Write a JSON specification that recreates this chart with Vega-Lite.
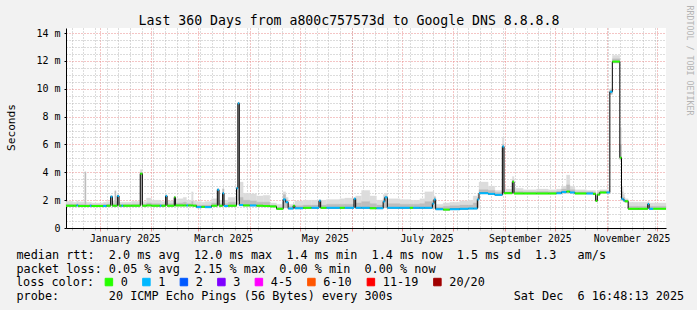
{
  "$schema": "https://vega.github.io/schema/vega-lite/v6.json",
  "width": 600,
  "height": 200,
  "autosize": {"type": "none"},
  "padding": {"left": 66, "top": 28, "right": 31, "bottom": 82},
  "background": "#f2f2f2",
  "config": {"view": {"fill": "#ffffff", "stroke": null}, "font": "DejaVu Sans Mono"},
  "data": {"values": [
    {"t":"2024-12-11T16:48:00Z","e":"2024-12-16T00:00:00Z","m":1.6,"l":"0","lo":1.55,"h2":1.72,"hi":1.92},
    {"t":"2024-12-16T00:00:00Z","e":"2024-12-18T00:00:00Z","m":1.6,"l":"0","lo":1.55,"h2":1.7,"hi":1.85},
    {"t":"2024-12-18T00:00:00Z","e":"2024-12-19T00:00:00Z","m":1.62,"l":"1","lo":1.56,"h2":1.74,"hi":1.95},
    {"t":"2024-12-19T00:00:00Z","e":"2024-12-23T00:00:00Z","m":1.58,"l":"0","lo":1.53,"h2":1.7,"hi":1.88},
    {"t":"2024-12-23T00:00:00Z","e":"2024-12-23T16:00:00Z","m":1.58,"l":"0","lo":1.53,"h2":4.0,"hi":4.05},
    {"t":"2024-12-23T16:00:00Z","e":"2024-12-26T00:00:00Z","m":1.58,"l":"0","lo":1.53,"h2":1.68,"hi":1.85},
    {"t":"2024-12-26T00:00:00Z","e":"2024-12-27T00:00:00Z","m":1.6,"l":"1","lo":1.55,"h2":1.7,"hi":1.85},
    {"t":"2024-12-27T00:00:00Z","e":"2025-01-03T00:00:00Z","m":1.58,"l":"0","lo":1.53,"h2":1.68,"hi":1.8},
    {"t":"2025-01-03T00:00:00Z","e":"2025-01-05T00:00:00Z","m":1.58,"l":"1","lo":1.53,"h2":1.7,"hi":1.85},
    {"t":"2025-01-05T00:00:00Z","e":"2025-01-07T12:00:00Z","m":1.6,"l":"0","lo":1.55,"h2":1.72,"hi":1.9},
    {"t":"2025-01-07T12:00:00Z","e":"2025-01-08T12:00:00Z","m":2.25,"l":"1","lo":1.62,"h2":2.3,"hi":2.35},
    {"t":"2025-01-08T12:00:00Z","e":"2025-01-10T00:00:00Z","m":1.6,"l":"0","lo":1.55,"h2":1.75,"hi":1.95},
    {"t":"2025-01-10T00:00:00Z","e":"2025-01-10T16:00:00Z","m":1.6,"l":"0","lo":1.55,"h2":2.65,"hi":2.7},
    {"t":"2025-01-10T16:00:00Z","e":"2025-01-11T12:00:00Z","m":1.6,"l":"0","lo":1.55,"h2":1.72,"hi":1.9},
    {"t":"2025-01-11T12:00:00Z","e":"2025-01-12T12:00:00Z","m":2.3,"l":"1","lo":1.62,"h2":2.35,"hi":2.4},
    {"t":"2025-01-12T12:00:00Z","e":"2025-01-14T00:00:00Z","m":1.6,"l":"0","lo":1.55,"h2":1.7,"hi":1.85},
    {"t":"2025-01-14T00:00:00Z","e":"2025-01-15T00:00:00Z","m":1.6,"l":"1","lo":1.55,"h2":1.7,"hi":1.85},
    {"t":"2025-01-15T00:00:00Z","e":"2025-01-20T00:00:00Z","m":1.6,"l":"0","lo":1.55,"h2":1.7,"hi":1.85},
    {"t":"2025-01-20T00:00:00Z","e":"2025-01-25T06:00:00Z","m":1.6,"l":"0","lo":1.55,"h2":1.72,"hi":1.92},
    {"t":"2025-01-25T06:00:00Z","e":"2025-01-26T12:00:00Z","m":3.9,"l":"0","lo":1.7,"h2":4.0,"hi":4.2},
    {"t":"2025-01-26T12:00:00Z","e":"2025-01-29T00:00:00Z","m":1.6,"l":"0","lo":1.55,"h2":1.72,"hi":1.9},
    {"t":"2025-01-29T00:00:00Z","e":"2025-02-01T00:00:00Z","m":1.62,"l":"0","lo":1.56,"h2":1.8,"hi":2.15},
    {"t":"2025-02-01T00:00:00Z","e":"2025-02-06T00:00:00Z","m":1.6,"l":"0","lo":1.55,"h2":1.75,"hi":2.0},
    {"t":"2025-02-06T00:00:00Z","e":"2025-02-07T00:00:00Z","m":1.6,"l":"1","lo":1.55,"h2":1.72,"hi":1.95},
    {"t":"2025-02-07T00:00:00Z","e":"2025-02-09T12:00:00Z","m":1.6,"l":"0","lo":1.55,"h2":1.72,"hi":1.9},
    {"t":"2025-02-09T12:00:00Z","e":"2025-02-10T08:00:00Z","m":2.3,"l":"1","lo":1.62,"h2":2.35,"hi":2.4},
    {"t":"2025-02-10T08:00:00Z","e":"2025-02-14T16:00:00Z","m":1.6,"l":"0","lo":1.55,"h2":1.75,"hi":1.95},
    {"t":"2025-02-14T16:00:00Z","e":"2025-02-15T08:00:00Z","m":2.2,"l":"0","lo":1.62,"h2":2.25,"hi":2.3},
    {"t":"2025-02-15T08:00:00Z","e":"2025-02-20T00:00:00Z","m":1.62,"l":"0","lo":1.56,"h2":1.8,"hi":2.1},
    {"t":"2025-02-20T00:00:00Z","e":"2025-02-22T00:00:00Z","m":1.62,"l":"0","lo":1.56,"h2":1.85,"hi":2.2},
    {"t":"2025-02-22T00:00:00Z","e":"2025-02-23T00:00:00Z","m":1.62,"l":"1","lo":1.56,"h2":1.75,"hi":2.0},
    {"t":"2025-02-23T00:00:00Z","e":"2025-02-25T00:00:00Z","m":1.62,"l":"0","lo":1.56,"h2":1.75,"hi":2.0},
    {"t":"2025-02-25T00:00:00Z","e":"2025-02-26T00:00:00Z","m":1.62,"l":"0","lo":1.56,"h2":1.9,"hi":2.6},
    {"t":"2025-02-26T00:00:00Z","e":"2025-02-28T00:00:00Z","m":1.6,"l":"0","lo":1.55,"h2":1.72,"hi":1.95},
    {"t":"2025-02-28T00:00:00Z","e":"2025-03-03T00:00:00Z","m":1.5,"l":"1","lo":1.45,"h2":1.65,"hi":1.9},
    {"t":"2025-03-03T00:00:00Z","e":"2025-03-05T00:00:00Z","m":1.52,"l":"0","lo":1.47,"h2":1.65,"hi":1.85},
    {"t":"2025-03-05T00:00:00Z","e":"2025-03-09T00:00:00Z","m":1.5,"l":"1","lo":1.45,"h2":1.65,"hi":1.9},
    {"t":"2025-03-09T00:00:00Z","e":"2025-03-12T12:00:00Z","m":1.6,"l":"0","lo":1.55,"h2":1.8,"hi":2.1},
    {"t":"2025-03-12T12:00:00Z","e":"2025-03-13T12:00:00Z","m":2.75,"l":"1","lo":1.65,"h2":2.8,"hi":2.85},
    {"t":"2025-03-13T12:00:00Z","e":"2025-03-15T16:00:00Z","m":1.6,"l":"0","lo":1.55,"h2":1.75,"hi":2.0},
    {"t":"2025-03-15T16:00:00Z","e":"2025-03-16T12:00:00Z","m":2.5,"l":"1","lo":1.65,"h2":2.8,"hi":2.85},
    {"t":"2025-03-16T12:00:00Z","e":"2025-03-19T00:00:00Z","m":1.58,"l":"1","lo":1.53,"h2":1.75,"hi":2.0},
    {"t":"2025-03-19T00:00:00Z","e":"2025-03-24T00:00:00Z","m":1.6,"l":"0","lo":1.55,"h2":1.85,"hi":2.2},
    {"t":"2025-03-24T00:00:00Z","e":"2025-03-24T20:00:00Z","m":2.85,"l":"1","lo":1.7,"h2":2.9,"hi":2.95},
    {"t":"2025-03-24T20:00:00Z","e":"2025-03-25T16:00:00Z","m":8.95,"l":"1","lo":2.0,"h2":9.0,"hi":9.05},
    {"t":"2025-03-25T16:00:00Z","e":"2025-03-28T00:00:00Z","m":1.65,"l":"1","lo":1.58,"h2":2.2,"hi":3.3},
    {"t":"2025-03-28T00:00:00Z","e":"2025-04-01T00:00:00Z","m":1.62,"l":"0","lo":1.56,"h2":2.0,"hi":2.5},
    {"t":"2025-04-01T00:00:00Z","e":"2025-04-05T00:00:00Z","m":1.62,"l":"1","lo":1.56,"h2":1.95,"hi":2.45},
    {"t":"2025-04-05T00:00:00Z","e":"2025-04-09T00:00:00Z","m":1.6,"l":"0","lo":1.55,"h2":1.85,"hi":2.3},
    {"t":"2025-04-09T00:00:00Z","e":"2025-04-13T00:00:00Z","m":1.58,"l":"0","lo":1.53,"h2":1.85,"hi":2.35},
    {"t":"2025-04-13T00:00:00Z","e":"2025-04-17T00:00:00Z","m":1.55,"l":"0","lo":1.5,"h2":1.65,"hi":1.8},
    {"t":"2025-04-17T00:00:00Z","e":"2025-04-21T00:00:00Z","m":1.38,"l":"0","lo":1.33,"h2":1.5,"hi":1.7},
    {"t":"2025-04-21T00:00:00Z","e":"2025-04-22T12:00:00Z","m":2.05,"l":"1","lo":1.45,"h2":2.4,"hi":2.6},
    {"t":"2025-04-22T12:00:00Z","e":"2025-04-24T00:00:00Z","m":1.85,"l":"1","lo":1.45,"h2":2.0,"hi":2.2},
    {"t":"2025-04-24T00:00:00Z","e":"2025-04-27T00:00:00Z","m":1.4,"l":"1","lo":1.35,"h2":1.55,"hi":1.7},
    {"t":"2025-04-27T00:00:00Z","e":"2025-04-28T00:00:00Z","m":1.6,"l":"0","lo":1.4,"h2":1.65,"hi":1.7},
    {"t":"2025-04-28T00:00:00Z","e":"2025-05-03T00:00:00Z","m":1.42,"l":"1","lo":1.37,"h2":1.6,"hi":1.95},
    {"t":"2025-05-03T00:00:00Z","e":"2025-05-08T00:00:00Z","m":1.45,"l":"0","lo":1.4,"h2":1.65,"hi":2.0},
    {"t":"2025-05-08T00:00:00Z","e":"2025-05-12T12:00:00Z","m":1.45,"l":"1","lo":1.4,"h2":1.65,"hi":2.0},
    {"t":"2025-05-12T12:00:00Z","e":"2025-05-13T12:00:00Z","m":1.95,"l":"1","lo":1.45,"h2":2.0,"hi":2.05},
    {"t":"2025-05-13T12:00:00Z","e":"2025-05-17T00:00:00Z","m":1.45,"l":"0","lo":1.4,"h2":1.65,"hi":2.0},
    {"t":"2025-05-17T00:00:00Z","e":"2025-05-25T00:00:00Z","m":1.45,"l":"1","lo":1.4,"h2":1.7,"hi":2.05},
    {"t":"2025-05-25T00:00:00Z","e":"2025-05-28T00:00:00Z","m":1.45,"l":"0","lo":1.4,"h2":1.7,"hi":2.1},
    {"t":"2025-05-28T00:00:00Z","e":"2025-06-02T12:00:00Z","m":1.45,"l":"1","lo":1.4,"h2":1.7,"hi":2.15},
    {"t":"2025-06-02T12:00:00Z","e":"2025-06-03T12:00:00Z","m":2.1,"l":"1","lo":1.45,"h2":2.15,"hi":2.2},
    {"t":"2025-06-03T12:00:00Z","e":"2025-06-07T00:00:00Z","m":1.45,"l":"1","lo":1.4,"h2":1.8,"hi":2.3},
    {"t":"2025-06-07T00:00:00Z","e":"2025-06-12T00:00:00Z","m":1.45,"l":"1","lo":1.4,"h2":1.9,"hi":2.7},
    {"t":"2025-06-12T00:00:00Z","e":"2025-06-16T00:00:00Z","m":1.42,"l":"0","lo":1.37,"h2":1.75,"hi":2.3},
    {"t":"2025-06-16T00:00:00Z","e":"2025-06-20T00:00:00Z","m":1.42,"l":"1","lo":1.37,"h2":1.65,"hi":2.0},
    {"t":"2025-06-20T00:00:00Z","e":"2025-06-21T00:00:00Z","m":1.9,"l":"1","lo":1.45,"h2":2.1,"hi":2.4},
    {"t":"2025-06-21T00:00:00Z","e":"2025-06-22T12:00:00Z","m":2.2,"l":"1","lo":1.45,"h2":2.3,"hi":2.5},
    {"t":"2025-06-22T12:00:00Z","e":"2025-06-30T00:00:00Z","m":1.45,"l":"1","lo":1.4,"h2":1.75,"hi":2.1},
    {"t":"2025-06-30T00:00:00Z","e":"2025-07-06T00:00:00Z","m":1.45,"l":"1","lo":1.4,"h2":1.7,"hi":2.05},
    {"t":"2025-07-06T00:00:00Z","e":"2025-07-08T00:00:00Z","m":1.45,"l":"0","lo":1.4,"h2":1.7,"hi":2.0},
    {"t":"2025-07-08T00:00:00Z","e":"2025-07-12T00:00:00Z","m":1.45,"l":"1","lo":1.4,"h2":1.7,"hi":2.0},
    {"t":"2025-07-12T00:00:00Z","e":"2025-07-15T00:00:00Z","m":1.45,"l":"1","lo":1.4,"h2":1.75,"hi":2.1},
    {"t":"2025-07-15T00:00:00Z","e":"2025-07-19T12:00:00Z","m":1.45,"l":"1","lo":1.4,"h2":1.9,"hi":2.6},
    {"t":"2025-07-19T12:00:00Z","e":"2025-07-20T12:00:00Z","m":1.75,"l":"1","lo":1.4,"h2":2.0,"hi":2.6},
    {"t":"2025-07-20T12:00:00Z","e":"2025-07-21T12:00:00Z","m":2.05,"l":"1","lo":1.4,"h2":2.2,"hi":2.3},
    {"t":"2025-07-21T12:00:00Z","e":"2025-07-26T00:00:00Z","m":1.35,"l":"1","lo":1.3,"h2":1.5,"hi":1.7},
    {"t":"2025-07-26T00:00:00Z","e":"2025-07-30T00:00:00Z","m":1.32,"l":"0","lo":1.28,"h2":1.55,"hi":1.8},
    {"t":"2025-07-30T00:00:00Z","e":"2025-08-05T00:00:00Z","m":1.35,"l":"1","lo":1.3,"h2":1.6,"hi":1.85},
    {"t":"2025-08-05T00:00:00Z","e":"2025-08-10T00:00:00Z","m":1.38,"l":"1","lo":1.33,"h2":1.65,"hi":1.95},
    {"t":"2025-08-10T00:00:00Z","e":"2025-08-13T00:00:00Z","m":1.4,"l":"1","lo":1.35,"h2":1.65,"hi":2.0},
    {"t":"2025-08-13T00:00:00Z","e":"2025-08-15T12:00:00Z","m":1.4,"l":"1","lo":1.35,"h2":1.8,"hi":2.3},
    {"t":"2025-08-15T12:00:00Z","e":"2025-08-16T12:00:00Z","m":2.05,"l":"1","lo":1.45,"h2":2.2,"hi":2.4},
    {"t":"2025-08-16T12:00:00Z","e":"2025-08-22T00:00:00Z","m":2.5,"l":"1","lo":2.45,"h2":2.75,"hi":3.3},
    {"t":"2025-08-22T00:00:00Z","e":"2025-08-26T00:00:00Z","m":2.45,"l":"1","lo":2.4,"h2":2.7,"hi":3.0},
    {"t":"2025-08-26T00:00:00Z","e":"2025-08-30T12:00:00Z","m":2.38,"l":"1","lo":2.33,"h2":2.55,"hi":2.7},
    {"t":"2025-08-30T12:00:00Z","e":"2025-08-31T12:00:00Z","m":5.85,"l":"1","lo":2.45,"h2":6.0,"hi":6.5},
    {"t":"2025-08-31T12:00:00Z","e":"2025-09-05T12:00:00Z","m":2.5,"l":"0","lo":2.45,"h2":2.6,"hi":2.8},
    {"t":"2025-09-05T12:00:00Z","e":"2025-09-06T12:00:00Z","m":3.32,"l":"0","lo":2.5,"h2":3.45,"hi":3.7},
    {"t":"2025-09-06T12:00:00Z","e":"2025-09-12T00:00:00Z","m":2.48,"l":"0","lo":2.43,"h2":2.62,"hi":2.85},
    {"t":"2025-09-12T00:00:00Z","e":"2025-09-20T00:00:00Z","m":2.48,"l":"0","lo":2.43,"h2":2.6,"hi":2.75},
    {"t":"2025-09-20T00:00:00Z","e":"2025-09-27T00:00:00Z","m":2.48,"l":"0","lo":2.43,"h2":2.62,"hi":2.8},
    {"t":"2025-09-27T00:00:00Z","e":"2025-10-02T00:00:00Z","m":2.48,"l":"0","lo":2.43,"h2":2.6,"hi":2.75},
    {"t":"2025-10-02T00:00:00Z","e":"2025-10-05T00:00:00Z","m":2.5,"l":"1","lo":2.45,"h2":2.65,"hi":2.8},
    {"t":"2025-10-05T00:00:00Z","e":"2025-10-08T00:00:00Z","m":2.58,"l":"1","lo":2.5,"h2":2.8,"hi":3.0},
    {"t":"2025-10-08T00:00:00Z","e":"2025-10-10T00:00:00Z","m":2.62,"l":"0","lo":2.52,"h2":3.1,"hi":3.8},
    {"t":"2025-10-10T00:00:00Z","e":"2025-10-13T00:00:00Z","m":2.55,"l":"1","lo":2.5,"h2":2.75,"hi":3.0},
    {"t":"2025-10-13T00:00:00Z","e":"2025-10-20T00:00:00Z","m":2.48,"l":"0","lo":2.43,"h2":2.6,"hi":2.75},
    {"t":"2025-10-20T00:00:00Z","e":"2025-10-24T00:00:00Z","m":2.48,"l":"1","lo":2.43,"h2":2.6,"hi":2.7},
    {"t":"2025-10-24T00:00:00Z","e":"2025-10-25T12:00:00Z","m":2.45,"l":"0","lo":2.4,"h2":2.58,"hi":2.7},
    {"t":"2025-10-25T12:00:00Z","e":"2025-10-26T12:00:00Z","m":1.95,"l":"0","lo":1.9,"h2":2.1,"hi":2.3},
    {"t":"2025-10-26T12:00:00Z","e":"2025-10-28T00:00:00Z","m":2.4,"l":"0","lo":2.35,"h2":2.55,"hi":2.7},
    {"t":"2025-10-28T00:00:00Z","e":"2025-11-01T00:00:00Z","m":2.55,"l":"0","lo":2.5,"h2":2.65,"hi":2.75},
    {"t":"2025-11-01T00:00:00Z","e":"2025-11-03T00:00:00Z","m":2.55,"l":"1","lo":2.5,"h2":2.65,"hi":2.75},
    {"t":"2025-11-03T00:00:00Z","e":"2025-11-04T12:00:00Z","m":9.78,"l":"1","lo":9.6,"h2":9.9,"hi":10.0},
    {"t":"2025-11-04T12:00:00Z","e":"2025-11-09T00:00:00Z","m":11.95,"l":"0","lo":11.85,"h2":12.15,"hi":12.4},
    {"t":"2025-11-09T00:00:00Z","e":"2025-11-10T00:00:00Z","m":5.05,"l":"0","lo":4.9,"h2":6.0,"hi":7.2},
    {"t":"2025-11-10T00:00:00Z","e":"2025-11-11T00:00:00Z","m":2.1,"l":"1","lo":2.0,"h2":2.6,"hi":3.0},
    {"t":"2025-11-11T00:00:00Z","e":"2025-11-12T00:00:00Z","m":2.0,"l":"1","lo":1.9,"h2":2.2,"hi":2.4},
    {"t":"2025-11-12T00:00:00Z","e":"2025-11-14T00:00:00Z","m":1.92,"l":"0","lo":1.85,"h2":2.0,"hi":2.1},
    {"t":"2025-11-14T00:00:00Z","e":"2025-11-20T00:00:00Z","m":1.38,"l":"0","lo":1.33,"h2":1.55,"hi":1.85},
    {"t":"2025-11-20T00:00:00Z","e":"2025-11-25T18:00:00Z","m":1.38,"l":"0","lo":1.33,"h2":1.55,"hi":1.85},
    {"t":"2025-11-25T18:00:00Z","e":"2025-11-26T14:00:00Z","m":1.72,"l":"1","lo":1.4,"h2":1.8,"hi":1.9},
    {"t":"2025-11-26T14:00:00Z","e":"2025-11-29T00:00:00Z","m":1.38,"l":"1","lo":1.33,"h2":1.55,"hi":1.8},
    {"t":"2025-11-29T00:00:00Z","e":"2025-12-06T16:48:00Z","m":1.38,"l":"0","lo":1.33,"h2":1.55,"hi":1.8}
  ]},
  "resolve": {"axis": {"x": "independent", "y": "independent"}},
  "layer": [
    {
      "mark": {"type": "rect", "color": "#dcdcdc", "stroke": "#dcdcdc", "strokeWidth": 0.3},
      "encoding": {
        "x": {"field": "t", "type": "temporal",
          "scale": {"type": "utc", "domain": [{"year": 2024, "month": 12, "date": 11, "hours": 16, "minutes": 48, "utc": true}, {"year": 2025, "month": 12, "date": 6, "hours": 16, "minutes": 48, "utc": true}]},
          "axis": {"orient": "bottom",
            "values": [
              {"year": 2024, "month": 12, "date": 15, "utc": true}, {"year": 2024, "month": 12, "date": 22, "utc": true}, {"year": 2024, "month": 12, "date": 29, "utc": true},
              {"year": 2025, "month": 1, "date": 5, "utc": true}, {"year": 2025, "month": 1, "date": 12, "utc": true}, {"year": 2025, "month": 1, "date": 19, "utc": true}, {"year": 2025, "month": 1, "date": 26, "utc": true},
              {"year": 2025, "month": 2, "date": 2, "utc": true}, {"year": 2025, "month": 2, "date": 9, "utc": true}, {"year": 2025, "month": 2, "date": 16, "utc": true}, {"year": 2025, "month": 2, "date": 23, "utc": true},
              {"year": 2025, "month": 3, "date": 2, "utc": true}, {"year": 2025, "month": 3, "date": 9, "utc": true}, {"year": 2025, "month": 3, "date": 16, "utc": true}, {"year": 2025, "month": 3, "date": 23, "utc": true}, {"year": 2025, "month": 3, "date": 30, "utc": true},
              {"year": 2025, "month": 4, "date": 6, "utc": true}, {"year": 2025, "month": 4, "date": 13, "utc": true}, {"year": 2025, "month": 4, "date": 20, "utc": true}, {"year": 2025, "month": 4, "date": 27, "utc": true},
              {"year": 2025, "month": 5, "date": 4, "utc": true}, {"year": 2025, "month": 5, "date": 11, "utc": true}, {"year": 2025, "month": 5, "date": 18, "utc": true}, {"year": 2025, "month": 5, "date": 25, "utc": true},
              {"year": 2025, "month": 6, "date": 1, "utc": true}, {"year": 2025, "month": 6, "date": 8, "utc": true}, {"year": 2025, "month": 6, "date": 15, "utc": true}, {"year": 2025, "month": 6, "date": 22, "utc": true}, {"year": 2025, "month": 6, "date": 29, "utc": true},
              {"year": 2025, "month": 7, "date": 6, "utc": true}, {"year": 2025, "month": 7, "date": 13, "utc": true}, {"year": 2025, "month": 7, "date": 20, "utc": true}, {"year": 2025, "month": 7, "date": 27, "utc": true},
              {"year": 2025, "month": 8, "date": 3, "utc": true}, {"year": 2025, "month": 8, "date": 10, "utc": true}, {"year": 2025, "month": 8, "date": 17, "utc": true}, {"year": 2025, "month": 8, "date": 24, "utc": true}, {"year": 2025, "month": 8, "date": 31, "utc": true},
              {"year": 2025, "month": 9, "date": 7, "utc": true}, {"year": 2025, "month": 9, "date": 14, "utc": true}, {"year": 2025, "month": 9, "date": 21, "utc": true}, {"year": 2025, "month": 9, "date": 28, "utc": true},
              {"year": 2025, "month": 10, "date": 5, "utc": true}, {"year": 2025, "month": 10, "date": 12, "utc": true}, {"year": 2025, "month": 10, "date": 19, "utc": true}, {"year": 2025, "month": 10, "date": 26, "utc": true},
              {"year": 2025, "month": 11, "date": 2, "utc": true}, {"year": 2025, "month": 11, "date": 9, "utc": true}, {"year": 2025, "month": 11, "date": 16, "utc": true}, {"year": 2025, "month": 11, "date": 23, "utc": true}, {"year": 2025, "month": 11, "date": 30, "utc": true}
            ],
            "grid": true, "gridColor": "#b8b8b8", "gridDash": [1, 2], "gridOpacity": 1, "gridWidth": 1, "labels": false, "ticks": true, "tickColor": "#b8b8b8", "tickSize": 2, "domain": false,
            "title": "probe:\u00a0\u00a0\u00a0\u00a0\u00a0\u00a0\u00a020\u00a0ICMP\u00a0Echo\u00a0Pings\u00a0(56\u00a0Bytes)\u00a0every\u00a0300s\u00a0\u00a0\u00a0\u00a0\u00a0\u00a0\u00a0\u00a0\u00a0\u00a0\u00a0\u00a0\u00a0\u00a0\u00a0\u00a0\u00a0Sat\u00a0Dec\u00a0\u00a06\u00a016:48:13\u00a02025",
            "titleFont": "DejaVu Sans Mono", "titleFontSize": 11.8, "titleFontWeight": "normal", "titleColor": "#000000", "titleAlign": "left", "titleBaseline": "alphabetic", "titleAnchor": "start", "titleX": -50, "titleY": 71.3, "titleLimit": 1000}},
        "x2": {"field": "e"},
        "y": {"field": "lo", "type": "quantitative",
          "scale": {"domain": [0, 14.36], "nice": false, "zero": true},
          "axis": {"orient": "left", "values": [0.5, 1, 1.5, 2.5, 3, 3.5, 4.5, 5, 5.5, 6.5, 7, 7.5, 8.5, 9, 9.5, 10.5, 11, 11.5, 12.5, 13, 13.5], "grid": true, "gridColor": "#b8b8b8", "gridDash": [1, 2], "gridOpacity": 1, "labels": false, "ticks": false, "domain": false, "title": null}},
        "y2": {"field": "hi"}
      }
    },
    {
      "mark": {"type": "rect", "color": "#bdbdbd", "stroke": "#bdbdbd", "strokeWidth": 0.3},
      "encoding": {
        "x": {"field": "t", "type": "temporal",
          "axis": {"orient": "bottom",
            "values": [
              {"year": 2025, "month": 1, "date": 1, "utc": true}, {"year": 2025, "month": 2, "date": 1, "utc": true}, {"year": 2025, "month": 3, "date": 1, "utc": true}, {"year": 2025, "month": 4, "date": 1, "utc": true},
              {"year": 2025, "month": 5, "date": 1, "utc": true}, {"year": 2025, "month": 6, "date": 1, "utc": true}, {"year": 2025, "month": 7, "date": 1, "utc": true}, {"year": 2025, "month": 8, "date": 1, "utc": true},
              {"year": 2025, "month": 9, "date": 1, "utc": true}, {"year": 2025, "month": 10, "date": 1, "utc": true}, {"year": 2025, "month": 11, "date": 1, "utc": true}, {"year": 2025, "month": 12, "date": 1, "utc": true}
            ],
            "grid": true, "gridColor": "#e88a8a", "gridDash": [1, 2], "gridOpacity": 1, "gridWidth": 1, "labels": false, "ticks": true, "tickColor": "#e88a8a", "tickSize": 3, "domain": true, "domainColor": "#000000", "domainWidth": 1,
            "title": ["median rtt:\u00a0\u00a02.0\u00a0ms\u00a0avg\u00a0\u00a012.0\u00a0ms\u00a0max\u00a0\u00a01.4\u00a0ms\u00a0min\u00a0\u00a01.4\u00a0ms\u00a0now\u00a0\u00a01.5\u00a0ms\u00a0sd\u00a0\u00a01.3\u00a0\u00a0\u00a0am/s",
                      "packet\u00a0loss:\u00a00.05\u00a0%\u00a0avg\u00a0\u00a02.15\u00a0%\u00a0max\u00a0\u00a00.00\u00a0%\u00a0min\u00a0\u00a00.00\u00a0%\u00a0now"],
            "titleFont": "DejaVu Sans Mono", "titleFontSize": 11.8, "titleFontWeight": "normal", "titleColor": "#000000", "titleAlign": "left", "titleBaseline": "alphabetic", "titleAnchor": "start", "titleX": -50, "titleY": 30.5, "titleLineHeight": 13.6, "titleLimit": 1000}},
        "x2": {"field": "e"},
        "y": {"field": "lo", "type": "quantitative",
          "axis": {"orient": "left", "values": [0, 2, 4, 6, 8, 10, 12, 14], "grid": true, "gridColor": "#e88a8a", "gridDash": [1, 2], "gridOpacity": 1, "labels": true,
            "labelExpr": "datum.value == 0 ? '0\u00a0\u00a0' : datum.value + '\u00a0m'", "labelFont": "DejaVu Sans Mono", "labelFontSize": 10, "labelColor": "#000000", "labelPadding": 4,
            "ticks": true, "tickSize": 2, "tickColor": "#000000", "domain": true, "domainColor": "#000000",
            "title": "Seconds", "titleFont": "DejaVu Sans Mono", "titleFontSize": 11.2, "titleFontWeight": "normal", "titleColor": "#000000", "titleAngle": 270, "titleX": -55, "titleY": 99, "titleAlign": "center", "titleBaseline": "middle"}},
        "y2": {"field": "h2"}
      }
    },
    {
      "mark": {"type": "line", "interpolate": "step-after", "color": "#000000", "strokeWidth": 1},
      "encoding": {
        "x": {"field": "t", "type": "temporal",
          "axis": {"orient": "bottom", "values": [{"year": 2025, "month": 1, "date": 16, "utc": true}, {"year": 2025, "month": 3, "date": 16, "utc": true}, {"year": 2025, "month": 5, "date": 16, "utc": true}, {"year": 2025, "month": 7, "date": 16, "utc": true}, {"year": 2025, "month": 9, "date": 16, "utc": true}, {"year": 2025, "month": 11, "date": 16, "utc": true}],
            "labelExpr": "utcFormat(datum.value, '%B %Y')", "grid": false, "ticks": false, "tickSize": 0, "domain": false, "labelPadding": 13, "labelBaseline": "alphabetic", "labelFont": "DejaVu Sans Mono", "labelFontSize": 9.8, "labelColor": "#000000", "labelFlush": false, "labelOverlap": false, "title": null}},
        "y": {"field": "m", "type": "quantitative",
          "axis": {"orient": "right", "labels": false, "ticks": false, "domain": false, "grid": false,
            "title": "RRDTOOL / TOBI OETIKER", "titleFont": "DejaVu Sans Mono", "titleFontSize": 8.3, "titleFontWeight": "normal", "titleColor": "#b4b4b4", "titleAngle": 90, "titleX": 22, "titleY": 32, "titleAlign": "center", "titleBaseline": "middle"}}
      }
    },
    {
      "mark": {"type": "rule", "strokeWidth": 2},
      "encoding": {
        "x": {"field": "t", "type": "temporal",
          "axis": {"orient": "top", "labels": false, "ticks": false, "domain": false, "grid": false,
            "title": "Last 360 Days from a800c757573d to Google DNS 8.8.8.8", "titleFont": "DejaVu Sans Mono", "titleFontSize": 13.2, "titleFontWeight": "normal", "titleColor": "#000000", "titleAlign": "center", "titleBaseline": "alphabetic", "titleX": 282.5, "titleY": -4, "titleLimit": 1000}},
        "x2": {"field": "e"},
        "y": {"field": "m", "type": "quantitative", "axis": null},
        "stroke": {"field": "l", "type": "nominal",
          "scale": {"domain": ["0", "1", "2", "3", "4-5", "6-10", "11-19", "20/20"], "range": ["#26ff00", "#00b8ff", "#0059ff", "#7e00ff", "#ff00ff", "#ff5500", "#ff0000", "#a10000"]},
          "legend": null},
        "fill": {"field": "l", "type": "nominal",
          "scale": {"domain": ["0", "1", "2", "3", "4-5", "6-10", "11-19", "20/20"], "range": ["#26ff00", "#00b8ff", "#0059ff", "#7e00ff", "#ff00ff", "#ff5500", "#ff0000", "#a10000"]},
          "legend": {"orient": "none", "legendX": -50, "legendY": 248, "direction": "horizontal", "columns": 8, "padding": 0,
            "title": "loss color:", "titleOrient": "left", "titleFont": "DejaVu Sans Mono", "titleFontSize": 11.8, "titleFontWeight": "normal", "titleColor": "#000000", "titlePadding": 8, "titleLimit": 300,
            "symbolType": "square", "symbolSize": 56, "symbolStrokeColor": "#000000", "symbolStrokeWidth": 1, "symbolOpacity": 1,
            "labelFont": "DejaVu Sans Mono", "labelFontSize": 11.8, "labelColor": "#000000", "labelOffset": 6, "labelLimit": 300, "columnPadding": 12.5}}
      }
    }
  ]
}
